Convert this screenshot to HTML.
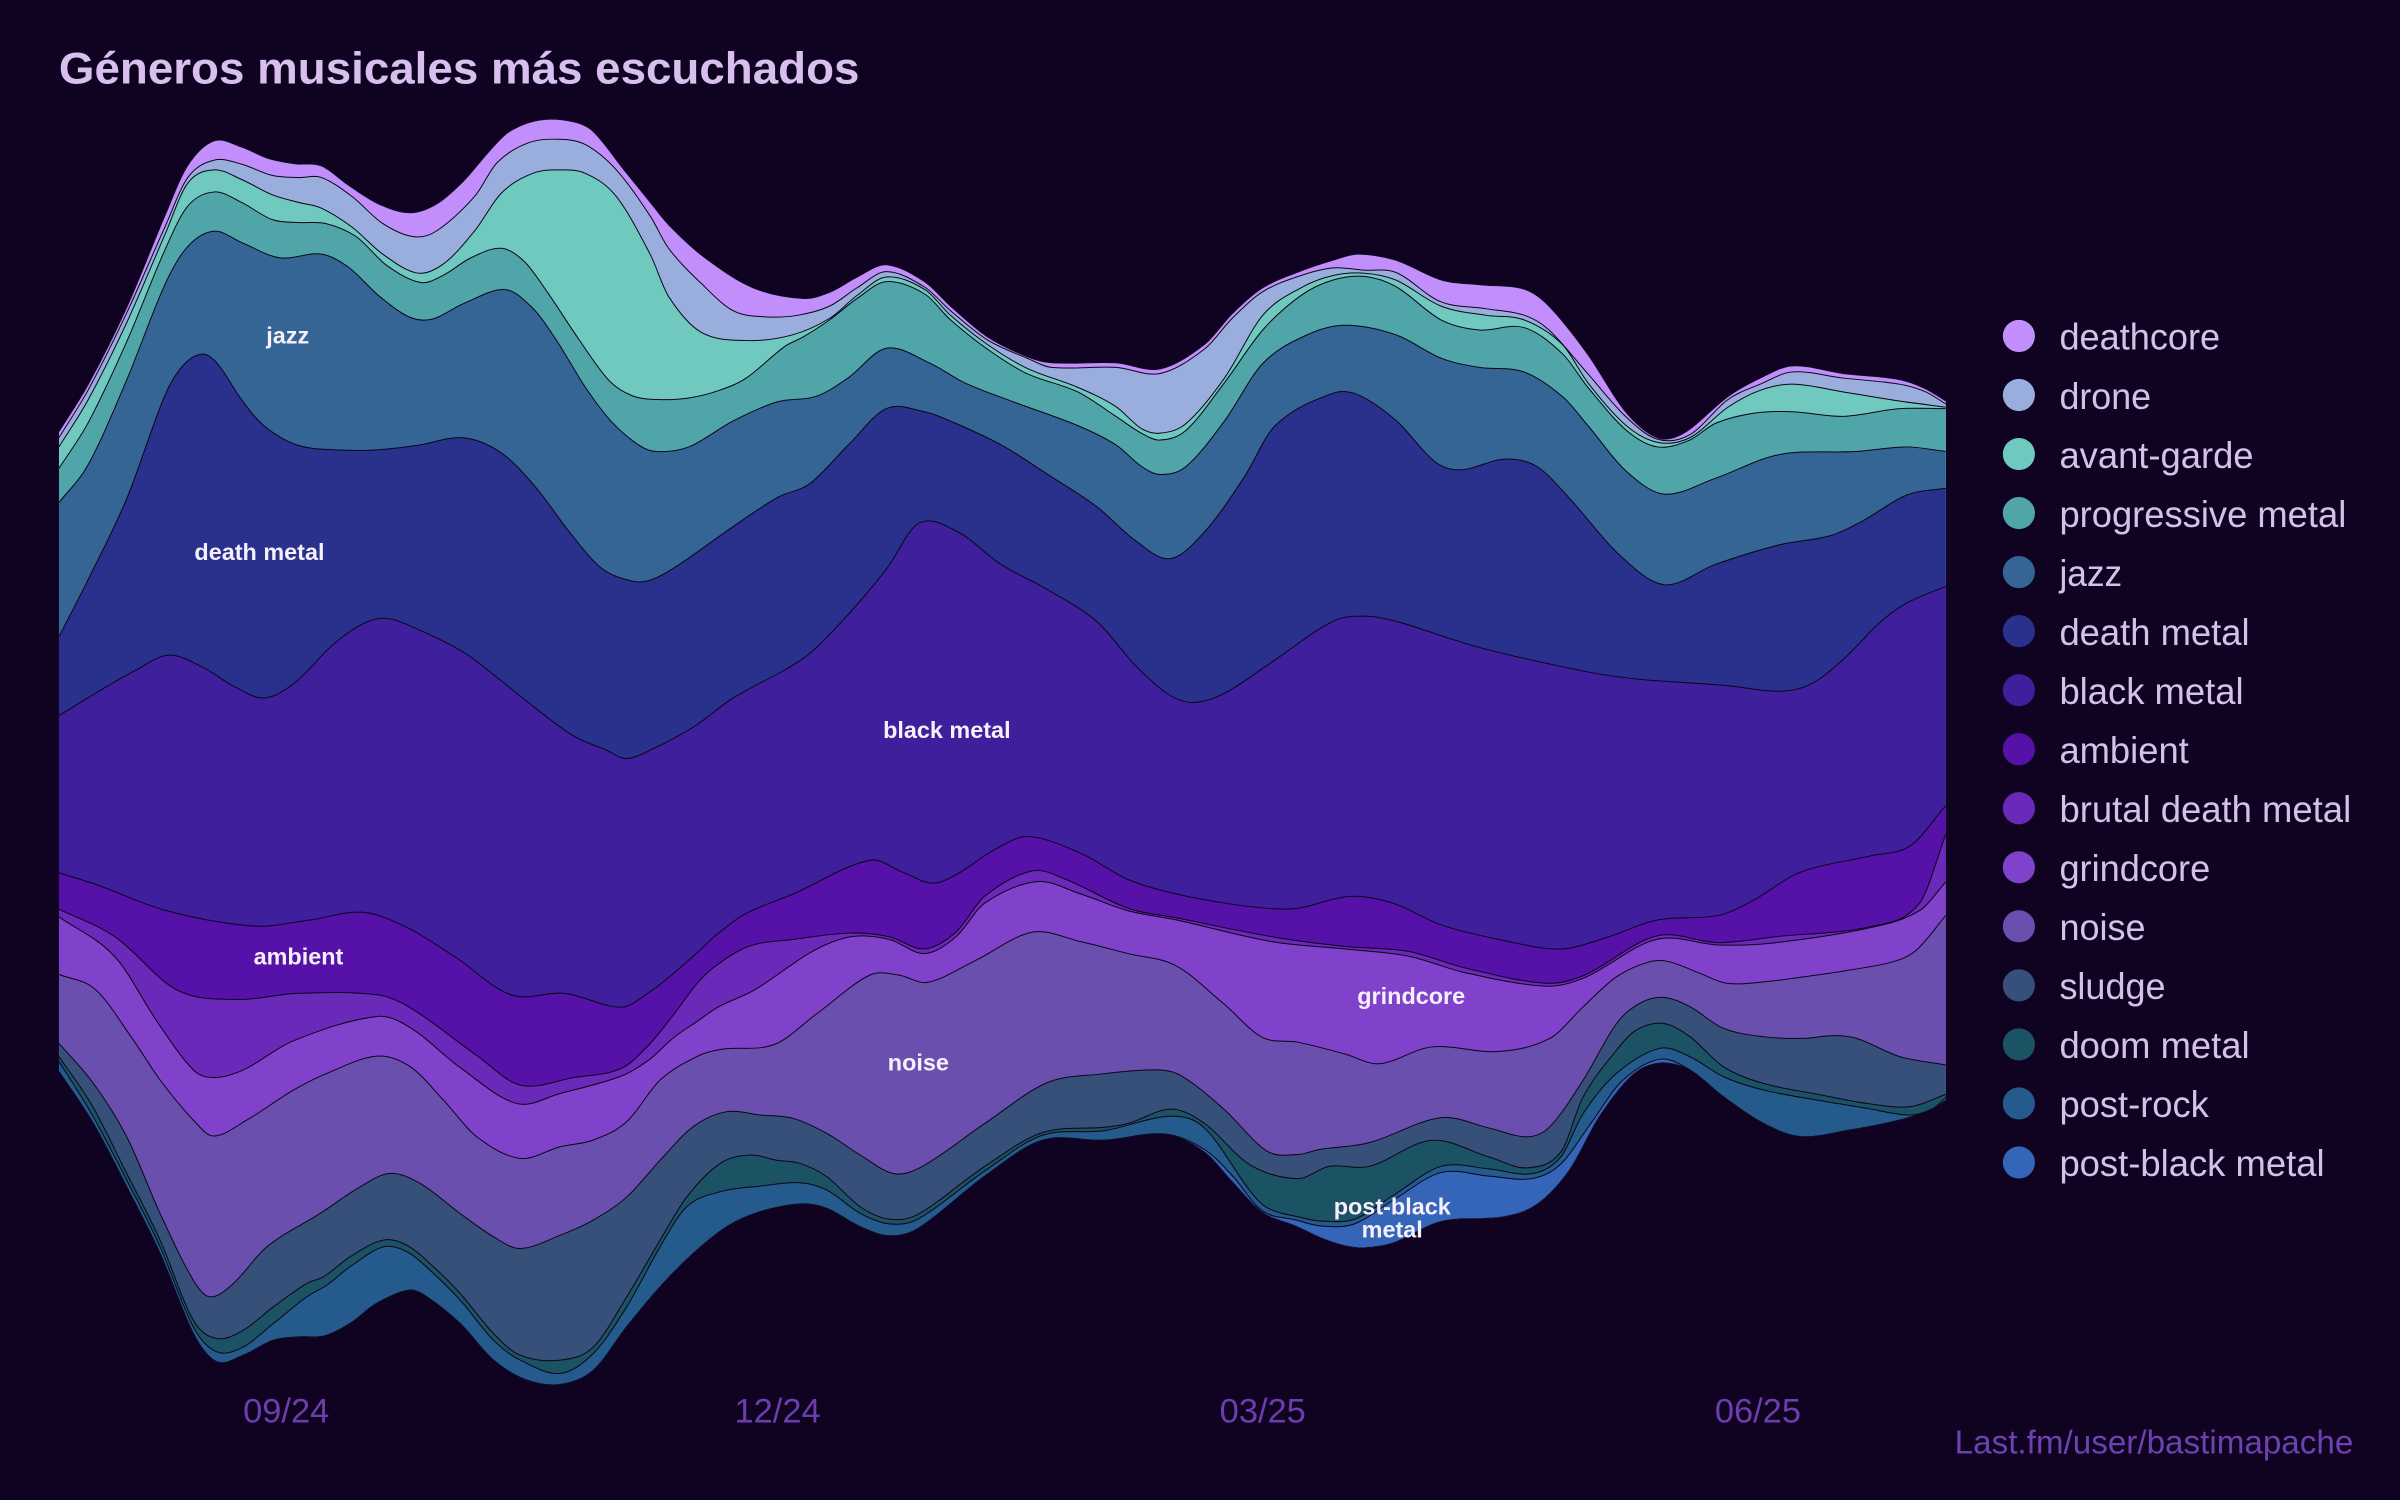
<!DOCTYPE html>
<html>
<head>
<meta charset="utf-8">
<style>
  html,body{margin:0;padding:0;background:#100322;}
  svg{display:block;}
  text{font-family:"Liberation Sans","DejaVu Sans",sans-serif;}
</style>
</head>
<body>
<svg id="chart" width="2400" height="1500" viewBox="0 0 1568 980" xmlns="http://www.w3.org/2000/svg">
  <defs><clipPath id="streamclip"><path id="clipshape" d=""/></clipPath></defs>
  <rect x="0" y="0" width="1568" height="980" fill="#100322"/>
  <g clip-path="url(#streamclip)">
    <g id="layers"></g>
    <g id="lines" fill="none" stroke="#0b0416" stroke-width="0.65"></g>
  </g>

  <!-- title -->
  <text x="38.5" y="54.7" font-size="29" font-weight="bold" fill="#d8bfee" textLength="523" lengthAdjust="spacingAndGlyphs">Géneros musicales más escuchados</text>

  <!-- in-chart labels -->
  <g font-size="15.3" font-weight="bold" fill="#f6f0fc" text-anchor="middle">
    <text x="188" y="224.5">jazz</text>
    <text x="169.5" y="366">death metal</text>
    <text x="618.6" y="482">black metal</text>
    <text x="195" y="630">ambient</text>
    <text x="600" y="699.5">noise</text>
    <text x="922" y="656">grindcore</text>
    <text x="909.6" y="793.4">post-black</text>
    <text x="909.6" y="808.4">metal</text>
  </g>

  <!-- x axis labels -->
  <g font-size="22.5" fill="#6b3dad" text-anchor="middle">
    <text x="187" y="929.4">09/24</text>
    <text x="508" y="929.4">12/24</text>
    <text x="825" y="929.4">03/25</text>
    <text x="1148.5" y="929.4">06/25</text>
  </g>
  <text x="1537.5" y="949.5" font-size="21.7" fill="#6d41b0" text-anchor="end">Last.fm/user/bastimapache</text>

  <!-- legend -->
  <g id="legend" font-size="24" fill="#d5c0ea"></g>
</svg>

<script>
(function(){
var NS="http://www.w3.org/2000/svg";
var colors=["#c28efc","#9aaede","#70c9be","#4fa5a8","#346594","#29318d","#3f1f9b","#5611a9","#6b29ba","#8042ca","#6a4fae","#37507a","#1b5264","#255a8c","#3465b8"];
var names=["deathcore","drone","avant-garde","progressive metal","jazz","death metal","black metal","ambient","brutal death metal","grindcore","noise","sludge","doom metal","post-rock","post-black metal"];
var widths=[105,59.9,126.8,187.4,41,124.2,120.3,84.5,190.6,98.5,56.2,69.3,124.2,97.6,173.2];

var B=[];
B[0]=[[38.5,282],[57.7,251],[82.7,201],[107.7,141],[122.7,108],[140,92],[157.7,96],[175,103.4],[192.7,107],[210,108.4],[227.7,121],[247.7,133.4],[267.7,139],[285,133.4],[302.7,118.4],[320,98.4],[332.7,86],[352.7,78.4],[375,79.6],[387.7,86],[407.7,111],[424.7,132],[437,147],[460,168],[492,188],[525,195],[542,191],[560,181],[579,173],[604,184],[621,200],[645,220],[671,233],[687,237],[729,237],[758,241],[787,225],[805,205],[825,188],[850,177],[871,170],[887,166],[912,170],[942,183],[967,186],[996,189],[1012,200],[1037,231],[1062,269],[1083,286],[1100,283],[1129,259],[1150,247],[1171,239],[1204,244],[1241,248],[1258,254],[1271.3,262]];
B[1]=[[38.5,286],[57.7,254.6],[82.7,204.6],[107.7,148.4],[122.7,116],[140,104.6],[157.7,107.2],[177.7,114.6],[195,116],[210,116],[230,128.4],[250,146],[270,154.6],[285,151],[310,128.4],[325,106],[345,93.4],[365,91],[382.7,94.6],[402.7,111],[424.7,141],[437,162.5],[458,185],[479,203],[500,207],[521,206],[542,200],[560,188],[579,177.5],[604,187.5],[621,203],[645,222],[671,234],[687,240],[729,240],[758,244],[787,228],[805,208],[825,190.6],[850,180],[871,175],[891,176.5],[912,178],[941,197],[970,201.6],[996,206],[1012,215.6],[1037,243.75],[1062,272],[1083,287],[1104,284],[1129,261],[1150,251],[1171,243],[1204,247],[1241,251],[1258,256],[1271.3,264]];
B[2]=[[38.5,292],[57.7,261],[82.7,211],[107.7,153.4],[122.7,119.6],[140,111],[157.7,117.2],[177.7,127.2],[195,132.2],[210,136],[230,148.4],[250,166],[272.7,178.4],[290,172.2],[310,151],[327.7,126],[347.7,113.4],[365,111],[382.7,113.4],[402.7,128.4],[424.7,166],[437,194],[458,217],[487.5,222.5],[517,219],[542,208],[560,193],[579,181],[604,189],[621,206],[645,225],[671,240.6],[704,253],[729,265.6],[745.7,280],[758,283],[775,276.6],[800,247],[825,206],[850,188],[871,180],[891.5,178.5],[912,183],[941.5,200],[970.7,206],[995.7,209],[1020.7,225],[1037.4,250],[1062.4,278],[1083,289],[1104,286],[1129,266],[1150,255],[1171,251],[1204,256],[1241,262],[1271.3,266]];
B[3]=[[38.5,306],[57.7,276],[82.7,223.4],[107.7,163.4],[122.7,134.6],[140,125.4],[157.7,132.2],[177.7,143.4],[195,145.4],[212.7,146],[232.7,154.6],[252.7,173.4],[275,184.6],[290,179.6],[307.7,168.4],[327.7,162.2],[342.7,171],[357.7,191],[377.7,221],[397.7,248.4],[412.7,258.4],[429,261],[450,260],[470,255],[487.5,247],[512.5,226.5],[525,220],[542,209],[560,195],[579,184],[604,192],[621,209],[645,228],[670.7,244],[704,256],[729,272],[745.7,283],[758,287.5],[775,281],[800,250],[825,215.6],[850,193],[870.7,183],[891.5,180.6],[912.4,187.5],[941.5,209],[966.5,215.6],[995.7,214],[1020.7,231],[1037.4,253],[1062.4,281],[1083,292],[1104,287.5],[1120.7,276.6],[1145.7,270],[1171,269],[1204,272],[1241,267],[1271.3,267]];
B[4]=[[38.5,328.4],[57.7,303.4],[82.7,248.4],[107.7,186],[122.7,161],[140,151],[157.7,158.4],[182.7,168.4],[210,166],[227.7,174.6],[247.7,193.4],[267.7,207.2],[282.7,208.4],[302.7,198.4],[330,189.2],[347.7,201],[362.7,221],[382.7,253.4],[400,276],[417.7,291],[429,295],[450,292],[479,275],[508,262.5],[533,259],[554,247],[579,227.5],[608,237.5],[630,250],[662,262.5],[704,278],[729,290.6],[745.7,304.7],[758,310],[775,304.7],[800,275],[825,237.5],[854,218.75],[879,212.5],[912,218.75],[941.5,234],[966.5,240],[995.7,243],[1020.7,259],[1037.4,278],[1062.4,307.8],[1087.4,322.8],[1120.7,312.5],[1162.4,297],[1212.4,295],[1245.7,292],[1271.3,295]];
B[5]=[[38.5,416],[57.7,378.4],[82.7,326],[107.7,258.4],[120,238.4],[132.7,231.4],[142.7,238.4],[157.7,261],[172.7,278.4],[195,291],[222.7,294],[245,294],[272.7,291],[302.7,286],[327.7,296],[350,318.4],[372.7,348.4],[392.7,371],[412.7,379.6],[425,379],[442,370],[479,344],[508,325],[529,316],[554,291],[579,267],[604,269],[620.7,275],[654,290.6],[683,309],[716.5,331],[741.5,353],[764.5,365],[787.4,347],[812.4,312.5],[833.2,278],[870.7,257],[887.4,258],[912.4,275],[937.4,301.6],[954,307],[983,300],[1004,304.7],[1024.9,325],[1058,362.5],[1087.4,382],[1120.7,368.75],[1162.4,356],[1195.7,350],[1216.5,340.6],[1245.7,323.4],[1271.3,319]];
B[6]=[[38.5,467.5],[70,448.4],[87.7,438.4],[110,428],[132.7,436],[152.7,448.4],[172.7,456],[192.7,446],[217.7,421],[237.7,407.2],[252.7,404],[272.7,411],[302.7,426],[322.7,441],[347.7,461],[375,481],[396,490],[409,495.6],[425,490],[453,475],[479,456],[525,430],[550,406],[579,372],[600,342],[625,347],[654,368.75],[683,384.4],[716.5,406],[741.5,434.4],[762.4,453],[779,459],[799.9,453],[833.2,431],[870.7,406],[891.5,402.5],[912.4,406],[966.5,423],[1037.4,439],[1070.7,443.75],[1129,448],[1162.4,451.6],[1183,447],[1204,431],[1229,406],[1245.7,394],[1271.3,383]];
B[7]=[[38.5,570.3],[62.5,577.8],[109,595],[166,605],[203,601],[237,596],[266,606],[297,625],[334,650],[369,649],[406,658],[424.6,648],[440,636],[455.9,622],[469,610],[487,597],[518.4,584],[568.4,562],[590,570],[609,577],[624.6,571.5],[650,555],[671.5,546.5],[705.9,557.4],[737,574.6],[768.4,584],[800,590],[827.7,593.4],[847.9,593.4],[882.2,585.6],[910.4,590.2],[941.6,604.3],[979,613.7],[1019.7,620],[1051,612],[1082.2,601.2],[1122.9,598],[1144.7,588.7],[1176,570],[1222.9,559],[1247.9,552.7],[1271.3,526.2]];
B[8]=[[38.5,594],[75,612],[116,647],[156,653],[194,649],[247,650],[269,659],[312,690],[340,709],[375,704],[406,698],[424.6,682],[440,663],[455.9,642],[469,630],[490,618],[518.4,613.7],[556,609.6],[580.9,612],[604,620],[624.6,609],[643.4,585.5],[674.6,569],[696.5,574.6],[737,593.4],[768.4,599.6],[830.9,612],[879,618.4],[919.7,621.5],[957.2,632.4],[1010.4,642.4],[1035.4,637],[1082.2,611.5],[1122.9,615.9],[1160,612],[1222.9,605.2],[1254,590.2],[1271.3,545]];
B[9]=[[38.5,599],[75,625],[103,668],[126.3,699],[139.4,704],[159,699],[191.7,680],[247,664],[269,672],[300,697],[337.7,721],[366,714.4],[406,703],[424.6,692],[440,678],[455.9,667],[469,658],[493.4,646.5],[530.9,621.5],[556,612],[580.9,613.7],[604,623],[624.6,612],[643.4,590],[677.7,576],[705.9,584],[737,595],[768.4,601],[830.9,615.2],[879,620],[919.7,624.6],[957.2,635.5],[1010.4,644.3],[1035.4,638.7],[1082.2,613.7],[1122.9,617.4],[1160,615.9],[1222.9,605.9],[1254,595],[1271.3,576.2]];
B[10]=[[38.5,636.6],[62.5,646.6],[87.1,679.5],[104.6,705.6],[126.3,731.8],[139.4,742.2],[161.2,731.8],[191.7,712.2],[213.5,701.3],[246.2,690],[268,696.9],[289.7,718.7],[311.5,742.7],[339.8,756.8],[366,749.2],[387.7,744.8],[409.5,732.8],[431.3,705.6],[455.9,690],[471.5,685.5],[505.9,682.4],[534,662],[568.4,637],[587,637],[605.9,641.8],[637,627.7],[674.6,609],[705.9,615.2],[737,623],[768.4,631],[799.6,655.9],[824.6,677.7],[847.9,680.9],[879,688.7],[901,695],[935.4,684],[979,687],[1012.6,678.4],[1034.4,657.7],[1056.2,638.1],[1077.9,628.3],[1090.4,628.3],[1110.6,635.9],[1128.1,642.4],[1154.2,641.3],[1186.9,637],[1208.7,633.7],[1237,628.3],[1252.2,620.6],[1271.3,598]];
B[11]=[[38.5,681.6],[61,707.8],[82.8,742.7],[104.6,792.8],[126.3,836.4],[137.2,847.3],[152.5,838.5],[174.3,814.6],[209.1,792.8],[235.3,775.4],[254.9,766.6],[274.5,773.2],[300.6,792.8],[322.4,808],[339.8,815.7],[366,807],[387.7,797],[409.5,782],[431.3,758],[453,736],[474.8,726.3],[496.6,728.5],[518.4,730.7],[540.2,740.5],[562,754.6],[584,766.8],[602.7,762],[643.4,734],[684,707.4],[718.4,701.8],[755.9,699],[771.5,702.7],[799.6,724.6],[827.7,752],[847.9,754.3],[862,751],[894.7,746.5],[941.6,730.2],[972.9,737],[997.9,742.7],[1012.6,736.1],[1034.4,705.6],[1056.2,668.6],[1071.4,655.5],[1086.7,651.6],[1104.1,657.7],[1125.9,671.8],[1152,677.3],[1178.2,678.4],[1197.8,676.6],[1213,678.4],[1241.4,690.4],[1271.3,695.8]];
B[12]=[[38.5,690.3],[60,722],[82.8,766.6],[104.6,810.2],[126.3,862.5],[141.6,874.5],[159,869],[178.6,853.8],[200.4,838.5],[211.3,834.2],[228.7,821.1],[250.5,810.2],[265.8,813.5],[283.2,827.6],[300.6,845],[322.4,871.2],[339.8,885.4],[366,888.6],[387.7,880],[409.5,847.2],[431.3,810.2],[448.7,782],[470.5,760.1],[490.1,754.6],[507.5,758],[522.8,760.1],[540.2,768.8],[562,788.4],[580.9,796.5],[599.6,793.4],[643.4,762],[680.9,740],[721.5,736.5],[737,734],[765.2,724.6],[787,734],[816.6,761],[847.9,770],[868.4,762],[894.7,762],[935.4,745],[972.9,755.9],[997.9,763],[1019.7,752.7],[1034.4,716.5],[1056.2,686],[1069.2,672.9],[1086.7,668.6],[1104.1,677.3],[1125.9,696.9],[1152,707.8],[1186.9,714.8],[1219.6,720.9],[1247.9,723],[1271.3,715]];
B[13]=[[38.5,693.5],[60,728],[82.8,771],[104.6,814.6],[126.3,866.9],[141.6,883.2],[159,880],[178.6,864.7],[200.4,847.3],[213.5,839.6],[228.7,827.6],[250.5,814.6],[265.8,817.8],[283.2,832],[300.6,849.4],[322.4,875.6],[339.8,888.6],[366,897.3],[387.7,884.2],[409.5,853.7],[431.3,814.5],[448.7,788.4],[470.5,778.6],[496.6,774.9],[522.8,772.7],[540.2,777.5],[562,792.7],[580.9,799.6],[599.6,796.5],[643.4,765],[680.9,741.8],[721.5,738.7],[765.2,729.3],[787,737],[816.6,778],[827.7,789],[847.9,795],[863.5,797.8],[885,796.5],[910.4,780.9],[941.6,762],[972.9,763.7],[1001,766.8],[1019.7,755.9],[1034.4,727.4],[1056.2,701.2],[1084.5,684.9],[1104.1,690.4],[1125.9,703.4],[1152,712.1],[1186.9,718.7],[1219.6,724.1],[1247.9,728.5],[1263.1,724.1],[1271.3,717]];
B[15]=[[38.5,700],[61,734],[82.8,775.4],[104.6,818.9],[126.3,871.2],[141.6,889.7],[159,885.4],[178.6,875.6],[196,873.4],[211.3,873],[228.7,864.7],[246,851.6],[267.8,842.9],[278.9,847.3],[300.6,864.7],[322.4,888.6],[344.2,901.7],[366,904.5],[387.7,895.2],[409.5,866.8],[431.3,840.7],[453,818.9],[474.8,801.5],[496.6,791.7],[522.8,786.6],[540.2,789.5],[562,801.5],[580.9,807.4],[599.6,802.7],[643.4,768.4],[680.9,745],[721.5,745],[762,741],[787,752.7],[805,772],[824.6,792],[846.5,801],[863.5,809],[877.7,813.7],[891.6,815.2],[910.4,812],[941.6,798],[982.2,795],[1004,787],[1025,765],[1045.3,729],[1067,702],[1084.5,694.5],[1104,699],[1125.9,716.5],[1152,733.9],[1176,742.6],[1208.7,738.3],[1241.4,731.7],[1263,724.5],[1271.3,719]];
B[14]=[[38.5,700],[61,734],[82.8,775.4],[104.6,818.9],[126.3,871.2],[141.6,889.7],[159,885.4],[178.6,875.6],[196,873.4],[211.3,873],[228.7,864.7],[246,851.6],[267.8,842.9],[278.9,847.3],[300.6,864.7],[322.4,888.6],[344.2,901.7],[366,904.5],[387.7,895.2],[409.5,866.8],[431.3,840.7],[453,818.9],[474.8,801.5],[496.6,791.7],[522.8,786.6],[540.2,789.5],[562,801.5],[580.9,807.4],[599.6,802.7],[643.4,768.4],[680.9,745],[721.5,745],[762,741],[787,751],[805,768],[824.6,791],[846.5,797],[863.5,801],[885,799.6],[910.4,784],[941.6,766],[972.9,768.4],[1001,770],[1019.7,760.5],[1040,733],[1060,706],[1084.5,692],[1104,699],[1125.9,716.5],[1152,733.9],[1176,742.6],[1208.7,738.3],[1241.4,731.7],[1263,724.5],[1271.3,719]];

function segs(pts){
  var n=pts.length, m=[], i;
  for(i=0;i<n;i++){
    var a=pts[Math.max(0,i-1)], b=pts[Math.min(n-1,i+1)];
    m.push((b[1]-a[1])/(b[0]-a[0]));
  }
  var s=[];
  for(i=0;i<n-1;i++){
    var p=pts[i], q=pts[i+1], dx=q[0]-p[0];
    s.push([p,[p[0]+dx/3,p[1]+m[i]*dx/3],[q[0]-dx/3,q[1]-m[i+1]*dx/3],q]);
  }
  return s;
}
function f(v){return v[0].toFixed(2)+","+v[1].toFixed(2);}
function fwd(s){
  var d="M"+f(s[0][0]);
  for(var i=0;i<s.length;i++){d+="C"+f(s[i][1])+" "+f(s[i][2])+" "+f(s[i][3]);}
  return d;
}
function rev(s){
  var d="L"+f(s[s.length-1][3]);
  for(var i=s.length-1;i>=0;i--){d+="C"+f(s[i][2])+" "+f(s[i][1])+" "+f(s[i][0]);}
  return d;
}
var S=B.map(segs);
var layers=document.getElementById("layers");
var lines=document.getElementById("lines");
var bottomRev=rev(S[15]);
document.getElementById("clipshape").setAttribute("d",fwd(S[0])+bottomRev+"Z");
for(var k=0;k<15;k++){
  var p=document.createElementNS(NS,"path");
  p.setAttribute("d",fwd(S[k])+bottomRev+"Z");
  p.setAttribute("fill",colors[k]);
  layers.appendChild(p);
}
for(var j=0;j<16;j++){
  var l=document.createElementNS(NS,"path");
  l.setAttribute("d",fwd(S[j]));
  lines.appendChild(l);
}
var lg=document.getElementById("legend");
for(var r=0;r<15;r++){
  var cy=219.5+38.57*r;
  var c=document.createElementNS(NS,"circle");
  c.setAttribute("cx","1319");c.setAttribute("cy",cy.toFixed(2));c.setAttribute("r","10.5");
  c.setAttribute("fill",colors[r]);
  lg.appendChild(c);
  var t=document.createElementNS(NS,"text");
  t.setAttribute("x","1345.5");t.setAttribute("y",(cy+9).toFixed(2));
  t.setAttribute("textLength",String(widths[r]));
  t.setAttribute("lengthAdjust","spacingAndGlyphs");
  t.textContent=names[r];
  lg.appendChild(t);
}
})();
</script>
</body>
</html>
